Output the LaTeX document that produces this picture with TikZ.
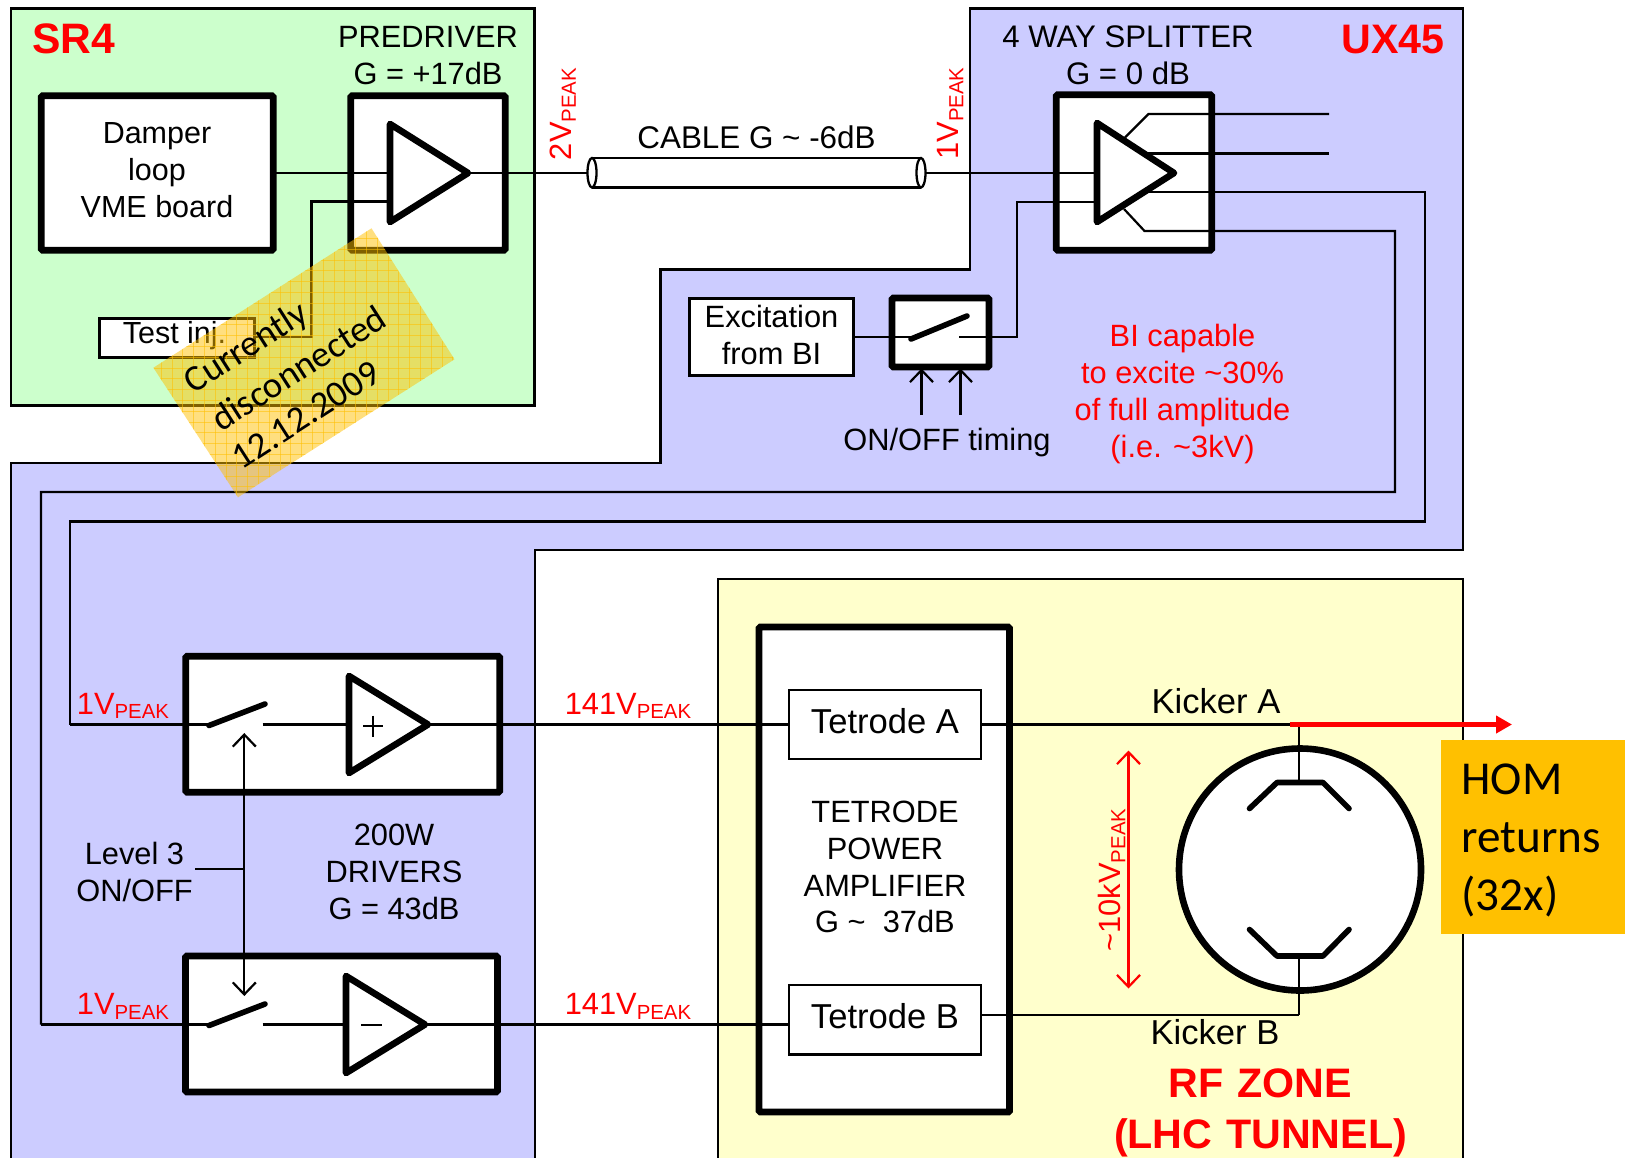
\documentclass[tikz,border=0pt]{standalone}
\usepackage{fontspec}
\setmainfont{Liberation Sans}
\newfontfamily\calib{Carlito}
\usetikzlibrary{arrows.meta,calc,shapes.geometric}
\definecolor{zgreen}{HTML}{CCFFCC}
\definecolor{zpurple}{HTML}{CCCCFF}
\definecolor{zyellow}{HTML}{FFFFCC}
\definecolor{hom}{HTML}{FFC000}
\definecolor{redtxt}{HTML}{FF0000}
\newcommand{\vpk}[1]{#1V\raisebox{-2.2pt}{\fontsize{10.2}{12}\selectfont PEAK}}
\newcommand{\tld}{\char"7E\relax}
\tikzset{
  x=0.5pt,y=-0.5pt,
  zone/.style={draw=black,line width=1.25pt,line join=miter},
  wire/.style={draw=black,line width=1.1pt,line join=miter},
  thickbox/.style={draw=black,fill=white,line width=3.3pt,inner sep=0pt,outer sep=0pt,rounded corners=0.6pt},
  midbox/.style={draw=black,fill=white,line width=1.5pt,inner sep=0pt,outer sep=0pt},
  tetbox/.style={draw=black,fill=white,line width=1.25pt,inner sep=0pt,outer sep=0pt},
  amp/.style={draw=black,fill=white,line width=3.3pt,line join=round},
  blade/.style={draw=black,line width=2.8pt,line cap=round},
  plate/.style={draw=black,line width=2.8pt,line cap=round,line join=round},
  ctl/.style={draw=black,line width=1.1pt},
  cabend/.style={draw=black,fill=white,line width=1.15pt,inner sep=0pt,ellipse,minimum width=4.5pt,minimum height=14.75pt},
  lbl/.style={font=\fontsize{15.4}{18.4}\selectfont,align=center,inner sep=0pt,text=black},
  biglbl/.style={font=\fontsize{17.3}{20}\selectfont,align=center,inner sep=0pt,text=black},
  redlbl/.style={font=\fontsize{15.4}{18.4}\selectfont,align=center,inner sep=0pt,text=redtxt},
  zonelbl/.style={font=\fontsize{20.6}{26}\selectfont\bfseries,align=center,inner sep=0pt,text=redtxt},
  notelbl/.style={rotate=32.6,inner sep=0pt,font=\calib\fontsize{18.4}{24}\selectfont},
}
\begin{document}
\begin{tikzpicture}
\useasboundingbox (0,0) rectangle (1625,1157);
\fill[white] (0,0) rectangle (1625,1157);
\begin{scope}
\clip (0,0) rectangle (1625,1157);
% zones
\draw[zone,fill=zgreen] (11,8.5) rectangle (534.5,405.5);
\draw[zone,fill=zpurple] (970,8.5) -- (1463,8.5) -- (1463,550) -- (535,550) -- (535,1170) -- (11,1170) -- (11,463) -- (660.5,463) -- (660.5,269.5) -- (970,269.5) -- cycle;
\draw[zone,fill=zyellow] (718,579) -- (1463,579) -- (1463,1170) -- (718,1170) -- cycle;

% coordinates of the signal path
\coordinate (ampPin) at (391,173);
\coordinate (ampTest) at (391,201.5);
\coordinate (ampTip) at (465,173);
\coordinate (testBend1) at (311.5,201.5);
\coordinate (testBend2) at (311.5,337);
\coordinate (cabL) at (587.5,173);
\coordinate (cabR) at (925.5,173);
\coordinate (spIn) at (1098,173);
\coordinate (spIn2) at (1098,202);
\coordinate (bend1) at (1017,202);
\coordinate (bend2) at (1017,337);
\coordinate (swOut) at (959,337);
\coordinate (swIn) at (911,337);
\coordinate (bladeA) at (911,339);
\coordinate (bladeB) at (967,316);

% predriver and damper
\node[thickbox,minimum width=116pt,minimum height=77.25pt] (damper) at (157.25,173) {};
\node[font=\fontsize{15.25}{18.2}\selectfont,align=center,inner sep=0pt] (damperlbl) at (157,170) {Damper\\[0.3pt]loop\\VME board};
\node[thickbox,minimum width=77.25pt,minimum height=77.25pt] (pre) at (428,173) {};
\node[midbox,minimum width=77.5pt,minimum height=19.5pt] (test) at (176.5,337.5) {};
\node[lbl,font=\fontsize{15.25}{18}\selectfont] (testlbl) at (174.5,336) {Test inj.};
\draw[wire] (damper.east) -- (ampPin);
\draw[wire] (ampTest) -- (testBend1) -- (testBend2) -- (test.east |- testBend2);
\draw[amp] (390,124) -- (468,173) -- (390,222) -- cycle;
\node[lbl] (predrvlbl) at (428,55.5) {PREDRIVER\\[0.2pt]G = +17dB};
\node[zonelbl,font=\fontsize{21.3}{26}\selectfont\bfseries] (sr4) at (74,39) {SR4};

% cable
\draw[wire] (ampTip) -- (cabL);
\draw[wire] (cabR) -- (spIn);
\path[fill=white] (592,158) rectangle (921,187.5);
\draw[line width=1.15pt] (592,158) -- (921,158);
\draw[line width=1.15pt] (592,187.5) -- (921,187.5);
\node[cabend] (cabLeft) at (592,172.75) {};
\node[cabend] (cabRight) at (921,172.75) {};
\node[lbl,font=\fontsize{15.7}{18}\selectfont] (cablelbl) at (756.5,137) {CABLE G \tld{} -6dB};
\node[redlbl,rotate=90] (v2) at (563,114) {\vpk{2}};
\node[redlbl,rotate=90] (v1top) at (950.5,113.5) {\vpk{1}};

% splitter
\node[thickbox,minimum width=77.75pt,minimum height=77.75pt] (split) at (1134,172.5) {};
\coordinate (o1a) at (1125,137.5); \coordinate (o1b) at (1148.5,114); \coordinate (o1c) at (1329,114);
\coordinate (o2a) at (1146,153.5); \coordinate (o2c) at (1329,153.5);
\coordinate (o3a) at (1148.5,192); \coordinate (o3b) at (1425,192); \coordinate (o3c) at (1425,521.5); \coordinate (o3d) at (70,521.5); \coordinate (o3e) at (70,724.5);
\coordinate (o4a) at (1124,209); \coordinate (o4b) at (1144.5,231); \coordinate (o4c) at (1395,231); \coordinate (o4d) at (1395,492); \coordinate (o4e) at (41,492); \coordinate (o4f) at (41,1024.5);
\draw[wire] (o1a) -- (o1b) -- (o1c);
\draw[wire] (o2a) -- (o2c);
\draw[wire] (o3a) -- (o3b) -- (o3c) -- (o3d) -- (o3e);
\draw[wire] (o4a) -- (o4b) -- (o4c) -- (o4d) -- (o4e) -- (o4f);
\draw[wire] (spIn) -- (cabR);
\draw[wire] (spIn2) -- (bend1) -- (bend2) -- (swOut);
\draw[amp] (1097,123) -- (1174,173) -- (1097,222) -- cycle;
\node[lbl,font=\fontsize{15.6}{18.4}\selectfont] (splitlbl) at (1128,55.5) {4 WAY SPLITTER\\[0.2pt]G = 0 dB};
\node[zonelbl] (ux) at (1393,40) {UX45};

% excitation
\node[midbox,minimum width=82.25pt,minimum height=38.5pt] (exc) at (771.25,337) {};
\node[lbl] (exclbl) at (771.5,335) {Excitation\\from BI};
\node[thickbox,minimum width=48.5pt,minimum height=34.5pt] (sw) at (940.5,332.5) {};
\draw[wire] (exc.east) -- (swIn);
\draw[wire] (swOut) -- (bend2);
\draw[blade] (bladeA) -- (bladeB);
\coordinate (t1) at (921.5,415); \coordinate (t1e) at (921.5,368.5);
\coordinate (t2) at (960.5,415); \coordinate (t2e) at (960.5,368.5);
\draw[ctl,-{Straight Barb[length=6pt,width=11.5pt]}] (t1) -- (t1e);
\draw[ctl,-{Straight Barb[length=6pt,width=11.5pt]}] (t2) -- (t2e);
\node[lbl] (timing) at (947,443) {ON/OFF timing};
\node[redlbl] (bi) at (1182.5,394) {BI capable\\to excite \tld{}30\%\\of full amplitude\\(i.e. \tld{}3kV)};

% drivers
\node[thickbox,minimum width=157pt,minimum height=68pt] (drvA) at (342.75,724.25) {};
\node[thickbox,minimum width=156pt,minimum height=68pt] (drvB) at (341.5,1024) {};
\coordinate (swA0) at (209,724.5); \coordinate (swB0) at (209,1024.5);
\coordinate (swA1) at (209,725.5); \coordinate (swA2) at (265,704);
\coordinate (swB1) at (209,1025.5); \coordinate (swB2) at (265,1004);
\coordinate (ctA) at (262.5,724.5); \coordinate (ctB) at (262.5,1024.5);
\coordinate (inA) at (348,724.5); \coordinate (inB) at (346,1024.5);
\coordinate (tipA) at (428,724.5); \coordinate (tipB) at (425,1024.5);
\coordinate (ctlA) at (244.3,733); \coordinate (ctlB) at (244.3,996);
\coordinate (lvlJ) at (244.3,869); \coordinate (lvlS) at (195,869);
\draw[wire] (o3e) -- (swA0);
\draw[wire] (o4f) -- (swB0);
\draw[wire] (ctA) -- (inA);
\draw[wire] (ctB) -- (inB);
\draw[blade] (swA1) -- (swA2);
\draw[blade] (swB1) -- (swB2);
\draw[ctl,{Straight Barb[length=6pt,width=11.5pt]}-{Straight Barb[length=6pt,width=11.5pt]}] (ctlA) -- (ctlB);
\draw[ctl] (lvlS) -- (lvlJ);
\draw[amp] (349,676) -- (428,724.5) -- (349,773) -- cycle;
\draw[amp] (346,976) -- (425,1024.5) -- (346,1073) -- cycle;
\draw[line width=1.1pt] (363,726) -- (383,726) (373,715.5) -- (373,736.5);
\draw[line width=1.1pt] (361,1025) -- (382,1025);
\node[lbl] (lvl) at (134.5,872) {Level 3\\ON/OFF};
\node[lbl] (drvlbl) at (394,872) {200W\\DRIVERS\\G = 43dB};
\node[redlbl] (v1a) at (123,706) {\vpk{1}};
\node[redlbl] (v1b) at (123,1006.5) {\vpk{1}};
\node[redlbl] (v141a) at (628,706) {\vpk{141}};
\node[redlbl] (v141b) at (628,1006.5) {\vpk{141}};

% tetrode amplifier
\coordinate (kaJ) at (1299,724.5);
\coordinate (kbJ) at (1299,1015.3);
\node[thickbox,minimum width=125.25pt,minimum height=242.5pt] (tpa) at (884.25,869.5) {};
\node[tetbox,minimum width=96pt,minimum height=34.5pt] (tA) at (885,724.5) {};
\node[tetbox,minimum width=96pt,minimum height=34.75pt] (tB) at (885,1019.5) {};
\node[biglbl] (tAlbl) at (885,721.5) {Tetrode A};
\node[biglbl] (tBlbl) at (885,1016.5) {Tetrode B};
\draw[wire] (tipA) -- (tA.west);
\draw[wire] (tipB) -- (tB.west |- tipB);
\draw[wire] (tA.east) -- (kaJ);
\draw[wire] (tB.east |- kbJ) -- (kbJ);
\node[lbl] (tpalbl) at (885,867) {TETRODE\\POWER\\AMPLIFIER\\G \tld{}\ \ 37dB};

% kicker
\node[draw=black,fill=white,line width=3.3pt,circle,inner sep=0pt,minimum size=121pt] (kick) at (1300,869.5) {};
\coordinate (pA1) at (1249.5,808.5); \coordinate (pA2) at (1277,782.5); \coordinate (pA3) at (1323,782.5); \coordinate (pA4) at (1349,808.5);
\coordinate (pB1) at (1249.5,929.5); \coordinate (pB2) at (1277,956); \coordinate (pB3) at (1323,956); \coordinate (pB4) at (1349,929.5);
\draw[wire] (kaJ) -- (kaJ |- pA2);
\draw[wire] (kbJ) -- (kbJ |- pB2);
\draw[plate] (pA1) -- (pA2) -- (pA3) -- (pA4);
\draw[plate] (pB1) -- (pB2) -- (pB3) -- (pB4);
\node[biglbl] (ka) at (1216,701) {Kicker A};
\node[biglbl] (kb) at (1215,1032.5) {Kicker B};
\coordinate (vU) at (1128.5,750.5); \coordinate (vD) at (1128.5,988.5);
\draw[draw=redtxt,line width=1.1pt,{Straight Barb[length=6pt,width=11.5pt]}-{Straight Barb[length=6pt,width=11.5pt]}] (vU) -- (vD);
\node[redlbl,rotate=90] (v10k) at (1112,880) {\tld{}10kV\raisebox{-2.2pt}{\fontsize{10.2}{12}\selectfont PEAK}};
\node[zonelbl,text width=200pt] (rf) at (1260.5,1113) {RF ZONE\\[-0.3pt](LHC TUNNEL)};

% HOM
\fill[hom] (1441,740) rectangle (1625,934);
\node[anchor=west,inner sep=0pt,font=\calib\fontsize{23.6}{29}\selectfont,align=left] (homlbl) at (1461,840) {HOM\\returns\\(32x)};
\coordinate (rA) at (1289.5,724.5); \coordinate (rB) at (1512,724.5);
\draw[draw=redtxt,line width=2.3pt,-{Triangle[length=8pt,width=8.5pt]}] (rA) -- (rB);
\end{scope}

% sticky note
\begin{scope}
\clip (371.5,228.3) -- (454.5,359.3) -- (238,497.3) -- (153.4,367.7) -- cycle;
\fill[hom,opacity=0.5] (150,225) rectangle (460,500);
\foreach \gx in {0,...,28} {\draw[hom,line width=0.4pt,opacity=0.55] ({161.2+10.8*\gx},225) -- ({161.2+10.8*\gx},500);}
\foreach \gy in {0,...,25} {\draw[hom,line width=0.4pt,opacity=0.55] (150,{227.5+10.8*\gy}) -- (460,{227.5+10.8*\gy});}
\end{scope}
\node[notelbl] (n1) at (247,348.5) {Currently};
\node[notelbl] (n2) at (298.5,368) {disconnected};
\node[notelbl] (n3) at (306,415) {12.12.2009};
\end{tikzpicture}
\end{document}
